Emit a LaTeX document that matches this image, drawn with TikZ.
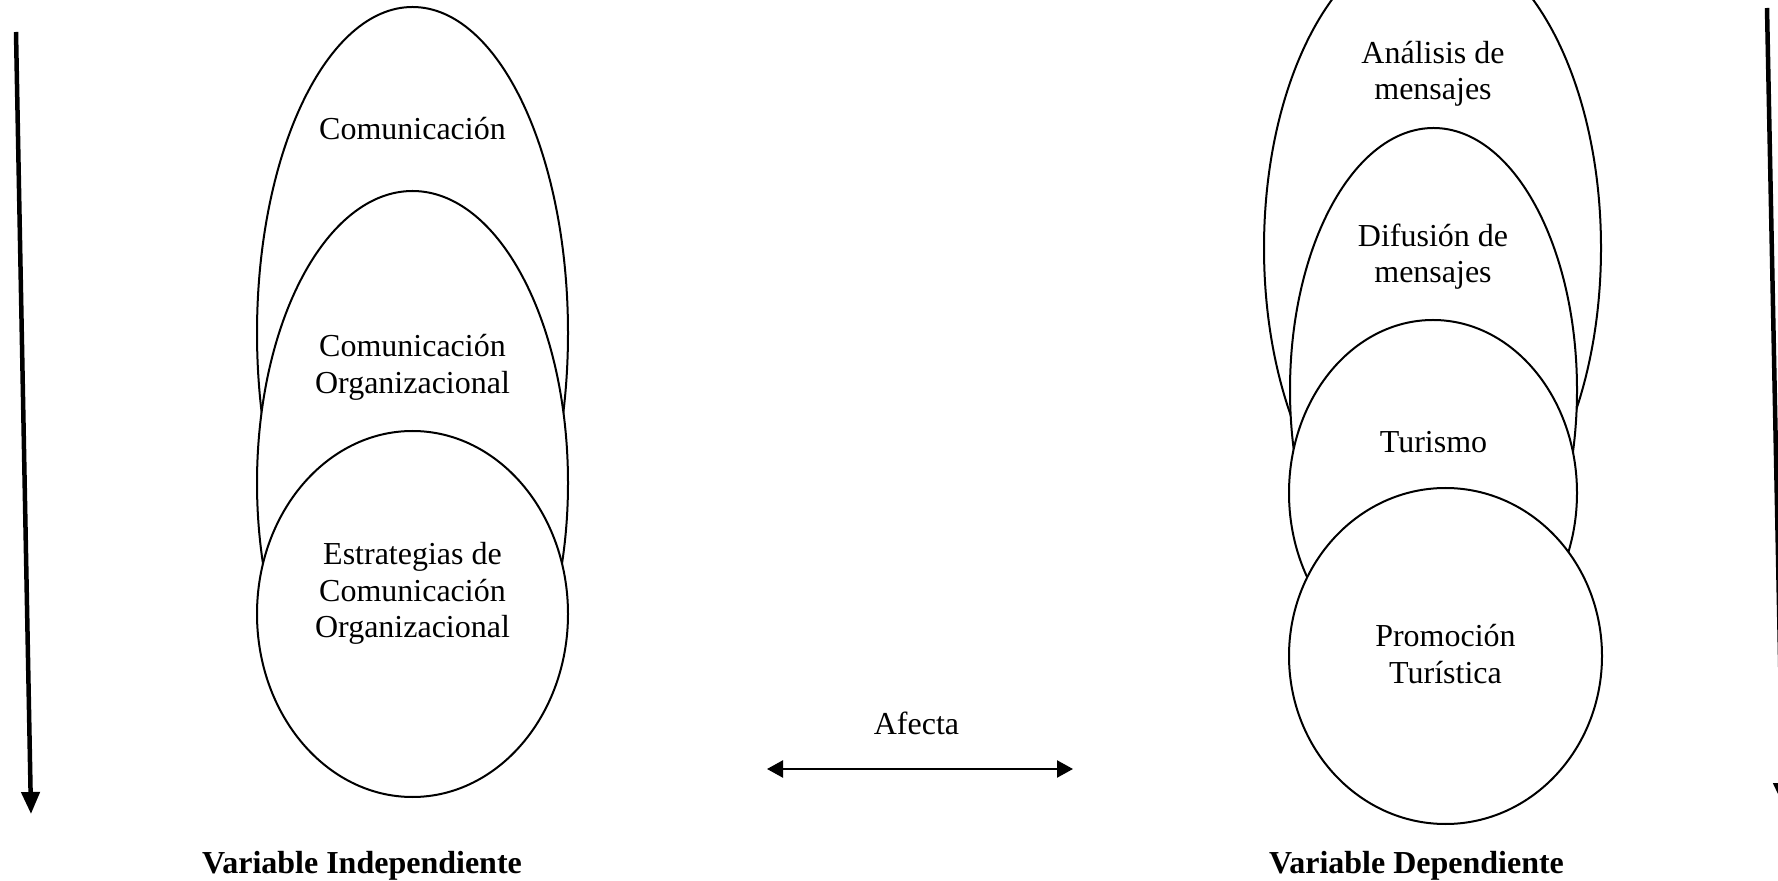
\documentclass[tikz,border=0pt]{standalone}
\usepackage{fontspec}
\setmainfont{Liberation Serif}
\usepackage{tikz}
\usetikzlibrary{shapes.geometric, positioning, arrows.meta}

\tikzset{
  elipse/.style={draw, fill=white, ellipse, line width=1pt, inner sep=0pt, outer sep=0pt},
  texto/.style={font=\fontsize{16}{18.25}\selectfont, align=center, inner sep=0pt, anchor=base},
  etiqueta/.style={font=\fontsize{16}{18.25}\selectfont\bfseries, inner sep=0pt, anchor=base},
  flecha/.style={line width=2.25pt, -{Triangle[length=11pt, width=9pt]}},
  afecta/.style={line width=1.15pt, {Triangle[length=8pt, width=8.5pt]}-{Triangle[length=8pt, width=8.5pt]}}
}

\begin{document}
\begin{tikzpicture}[x=0.5pt, y=-0.5pt]
% --- AREA DO DESENHO ---
\useasboundingbox (0,0) rectangle (1778,881);
\clip (0,0) rectangle (1778,881);

% LAYER 1: Variable independiente (elipses)
\node[elipse, minimum width=155.5pt, minimum height=326pt] (com) at (412.5,333) {};
\node[elipse, minimum width=155.5pt, minimum height=292pt] (comorg) at (412.5,483) {};
\node[elipse, minimum width=155.5pt, minimum height=183pt] (estr) at (412.5,614) {};
\node[texto] (tcom) at (412.5,140) {Comunicación};
\node[texto] (tcomorg) at (412.5,393.5) {Comunicación\\Organizacional};
\node[texto] (testr) at (412.5,638) {Estrategias de\\Comunicación\\Organizacional};

% LAYER 2: Variable dependiente (elipses)
\node[elipse, minimum width=168.5pt, minimum height=309.5pt] (anal) at (1432.5,248) {};
\node[elipse, minimum width=143.5pt, minimum height=262pt] (difu) at (1433.5,390) {};
\node[elipse, minimum width=144pt, minimum height=173pt] (turi) at (1433,493) {};
\node[elipse, minimum width=156.5pt, minimum height=168pt] (prom) at (1445.5,656) {};
\node[texto] (tanal) at (1433,100) {Análisis de\\mensajes};
\node[texto] (tdifu) at (1433,283) {Difusión de\\mensajes};
\node[texto] (tturi) at (1433.5,453) {Turismo};
\node[texto] (tprom) at (1445.5,683) {Promoción\\Turística};

% LAYER 3: Flechas
\coordinate (izqA) at (16,32);
\coordinate (izqB) at (31,814);
\coordinate (derA) at (1767,8);
\coordinate (derB) at (1783,805);
\draw[flecha] (izqA) -- (izqB);
\draw[flecha] (derA) -- (derB);

\coordinate (afA) at (767,769);
\coordinate (afB) at (1073,769);
\draw[afecta] (afA) -- (afB);
\node[texto] (tafecta) at (916.5,734) {Afecta};

% LAYER 4: Rotulos
\node[etiqueta] (vind) at (362,873) {Variable Independiente};
\node[etiqueta] (vdep) at (1416.5,873) {Variable Dependiente};
\end{tikzpicture}
\end{document}
